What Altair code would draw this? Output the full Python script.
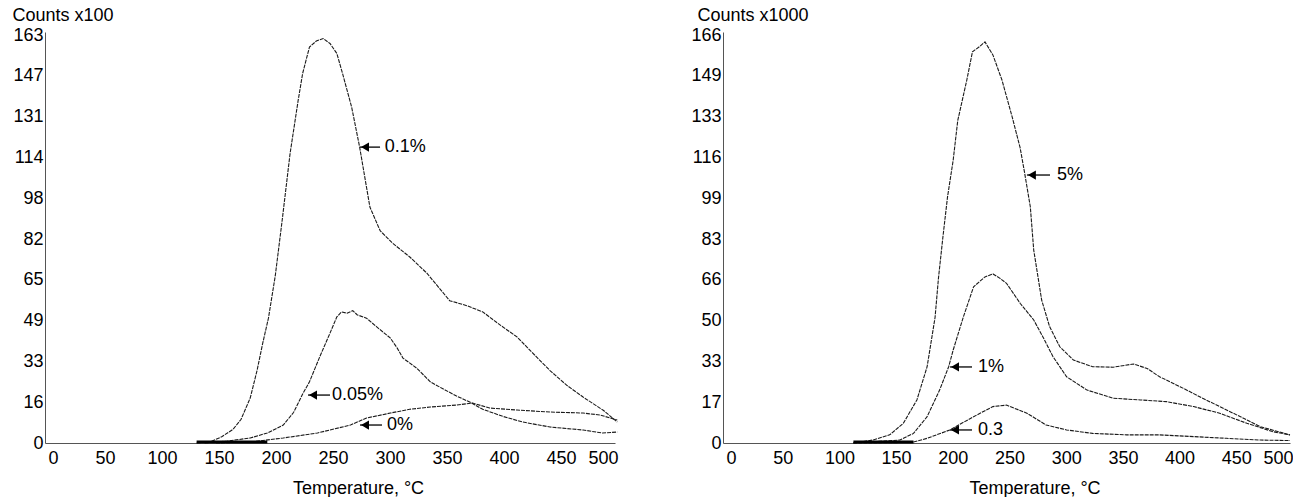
import altair as alt
import pandas as pd

FONT = "Liberation Sans"
FS = 18

# ---------------- Left panel data (Counts x100) ----------------
left_max = 163.4
left_tick_labels = ["0", "16", "33", "49", "65", "82", "98", "114", "131", "147", "163"]

l01_x = [133, 145, 155, 165, 172, 180, 186, 191, 196, 202, 208, 215, 222, 226, 232, 238, 244, 250, 256,
         261, 269, 276, 285, 294, 305, 320, 335, 355, 370, 384, 400, 414, 430, 443, 458, 472, 490, 502]
l01_y = [0, 0.5, 2.5, 5.5, 9.5, 18, 29, 40, 50, 67, 89, 116, 137, 148, 158.6, 161, 162, 160, 156,
         148, 134.5, 118.5, 94.5, 85, 80, 74.5, 68, 57, 55, 52.5, 47, 42.5, 35, 29, 23, 18.4, 13, 8.4]

l005_x = [140, 160, 180, 195, 209, 218, 226, 232, 241, 250, 256, 260, 265, 270, 274, 282, 291, 303, 309,
          314, 326, 338, 349, 361, 373, 384, 402, 419, 443, 472, 489, 502]
l005_y = [0, 0.8, 2, 4, 7.2, 12.2, 19.6, 24.5, 34.5, 44, 50.5, 52.5, 52, 53, 51.3, 50, 46.5, 42, 38,
          34, 30, 24.5, 21.7, 18.8, 16.3, 13.5, 10.6, 8.4, 6.4, 5.2, 4, 4.4]

l0_x = [150, 180, 209, 239, 268, 282, 303, 320, 338, 361, 375, 390, 414, 443, 472, 487, 502]
l0_y = [0, 0.4, 2, 4, 7.2, 10, 12, 13.5, 14.4, 15.2, 16, 14, 13.2, 12.4, 12, 11.2, 9.2]

left_noise = [133, 195]  # thick overlapping baseline start of the traces

left_lab_text = ["0.1%", "0.05%", "0%"]
left_lab_tip_x = [276.3, 230.7, 276.3]
left_lab_end_x = [293.9, 250.0, 295.6]
left_lab_txt_x = [298.0, 251.8, 300.0]
left_lab_y = [118.5, 19.2, 7.2]

# ---------------- Right panel data (Counts x1000) ----------------
right_max = 165.8
right_tick_labels = ["0", "17", "33", "50", "66", "83", "99", "116", "133", "149", "166"]

r5_x = [115, 132, 147, 159, 171, 180, 187, 190, 194, 198, 203, 207, 215, 220, 226, 231, 238, 246, 255,
        262, 266, 271, 274, 281, 288, 297, 309, 326, 344, 362, 374, 385, 403, 426, 450, 474, 500]
r5_y = [0, 1.2, 3.3, 8, 17.5, 31, 51, 67, 84, 100, 115, 131, 147.5, 159, 161, 163, 157.7, 147.5, 132.5,
        120, 109.7, 96, 78.4, 58.1, 47.3, 39.1, 33.7, 31, 30.8, 32.1, 30.3, 26.9, 22.9, 17.5, 12.1, 6.6, 3.3]

r1_x = [115, 156, 168, 180, 191, 199, 203, 212, 221, 231, 238, 244, 250, 262, 274, 282, 291, 303,
        321, 344, 368, 391, 415, 438, 462, 485, 500]
r1_y = [0, 1.2, 3.9, 10.7, 21.5, 31, 37.8, 51.3, 63.5, 67.5, 68.7, 67, 64.9, 56.8, 50, 43.2, 35.1, 26.9,
        21.5, 18.2, 17.5, 16.8, 14.8, 12.1, 8, 4.6, 3.3]

r03_x = [115, 150, 168, 180, 200, 221, 238, 250, 268, 285, 303, 326, 356, 385, 415, 444, 474, 500]
r03_y = [0, 0.1, 0.4, 1.9, 5.3, 10.7, 14.8, 15.4, 12.1, 7.3, 5.3, 3.9, 3.3, 3.3, 2.6, 1.9, 1.2, 1]

right_noise = [115, 168]

right_lab_text = ["5%", "1%", "0.3"]
right_lab_tip_x = [268.0, 200.2, 200.2]
right_lab_end_x = [288.4, 219.6, 219.6]
right_lab_txt_x = [294.5, 224.9, 224.9]
right_lab_y = [108.9, 30.9, 5.3]

x_ticks = [0, 50, 100, 150, 200, 250, 300, 350, 400, 450, 500]


def make_panel(series, vmax, tick_labels, y_title, title_x, noise, labs, width, height=411):
    rows = []
    for name, (xs, ys) in series.items():
        for a, b in zip(xs, ys):
            rows.append({"series": name, "T": a, "c": b})
    df = pd.DataFrame(rows)
    step = vmax / 10
    ymax = vmax * height / (height - 3)
    label_arr = "[" + ",".join("'%s'" % t for t in tick_labels) + "]"
    xsc = alt.Scale(domain=[0, 500], nice=False, zero=False)
    ysc = alt.Scale(domain=[0, ymax], nice=False, zero=True)
    xax = alt.Axis(values=x_ticks, title="Temperature, \u00b0C", grid=False, ticks=False, tickSize=0,
                   labelPadding=15, labelBaseline="middle", labelOffset=3, labelFontSize=FS,
                   labelFont=FONT, labelColor="#000", titleFont=FONT, titleFontSize=FS,
                   titleFontWeight="normal", titleColor="#000", titleX=width / 2 + 28, titleY=45,
                   titleBaseline="middle", titleAlign="center", domainColor="#555", labelOverlap=False)
    yax = alt.Axis(values=[i * step for i in range(11)],
                   labelExpr=label_arr + "[round(datum.value/%f)]" % step,
                   title=y_title, grid=False, ticks=False, tickSize=0, labelPadding=2,
                   labelFontSize=FS, labelFont=FONT, labelColor="#000", labelBaseline="middle",
                   titleFont=FONT, titleFontSize=FS, titleFontWeight="normal", titleColor="#000",
                   titleAngle=0, titleAlign="left", titleBaseline="alphabetic", titleX=title_x, titleY=-12,
                   domainColor="#555", labelOverlap=False)
    lines = alt.Chart(df).mark_line(color="#1a1a1a", strokeWidth=1.1, strokeDash=[4, 1]).encode(
        x=alt.X("T:Q", scale=xsc, axis=xax),
        y=alt.Y("c:Q", scale=ysc, axis=yax),
        detail="series:N",
        order="T:Q",
    )
    ndf = pd.DataFrame({"x0": [noise[0]], "x1": [noise[1]], "y": [0.4]})
    noise_mark = alt.Chart(ndf).mark_rule(color="#000", strokeWidth=3).encode(
        x=alt.X("x0:Q", scale=xsc), x2="x1:Q", y=alt.Y("y:Q", scale=ysc))
    text, tip, end, tx, ly = labs
    ldf = pd.DataFrame({"text": text, "tip": tip, "end": end, "tx": tx, "y": ly})
    shafts = alt.Chart(ldf).mark_rule(color="#000", strokeWidth=1.3).encode(
        x=alt.X("tip:Q", scale=xsc), x2="end:Q", y=alt.Y("y:Q", scale=ysc))
    heads = alt.Chart(ldf).mark_point(shape="triangle-left", filled=True, color="#000", size=85,
                                      opacity=1, xOffset=5).encode(
        x=alt.X("tip:Q", scale=xsc), y=alt.Y("y:Q", scale=ysc))
    texts = alt.Chart(ldf).mark_text(align="left", baseline="middle", font=FONT, fontSize=FS,
                                     color="#000").encode(
        x=alt.X("tx:Q", scale=xsc), y=alt.Y("y:Q", scale=ysc), text="text:N")
    return alt.layer(lines, noise_mark, shafts, heads, texts).properties(width=width, height=height)


left = make_panel({"0.1%": (l01_x, l01_y), "0.05%": (l005_x, l005_y), "0%": (l0_x, l0_y)},
                  left_max, left_tick_labels, "Counts x100", -33, left_noise,
                  (left_lab_text, left_lab_tip_x, left_lab_end_x, left_lab_txt_x, left_lab_y), 570)
right = make_panel({"5%": (r5_x, r5_y), "1%": (r1_x, r1_y), "0.3": (r03_x, r03_y)},
                   right_max, right_tick_labels, "Counts x1000", -26, right_noise,
                   (right_lab_text, right_lab_tip_x, right_lab_end_x, right_lab_txt_x, right_lab_y), 567)

chart = alt.hconcat(left, right, spacing=108, bounds="flush").properties(
    padding={"left": 12, "top": 6, "right": 0, "bottom": 0},
    background="white",
).configure_view(stroke=None)

chart.save("out.html", embed_options={"renderer": "svg", "actions": False})
